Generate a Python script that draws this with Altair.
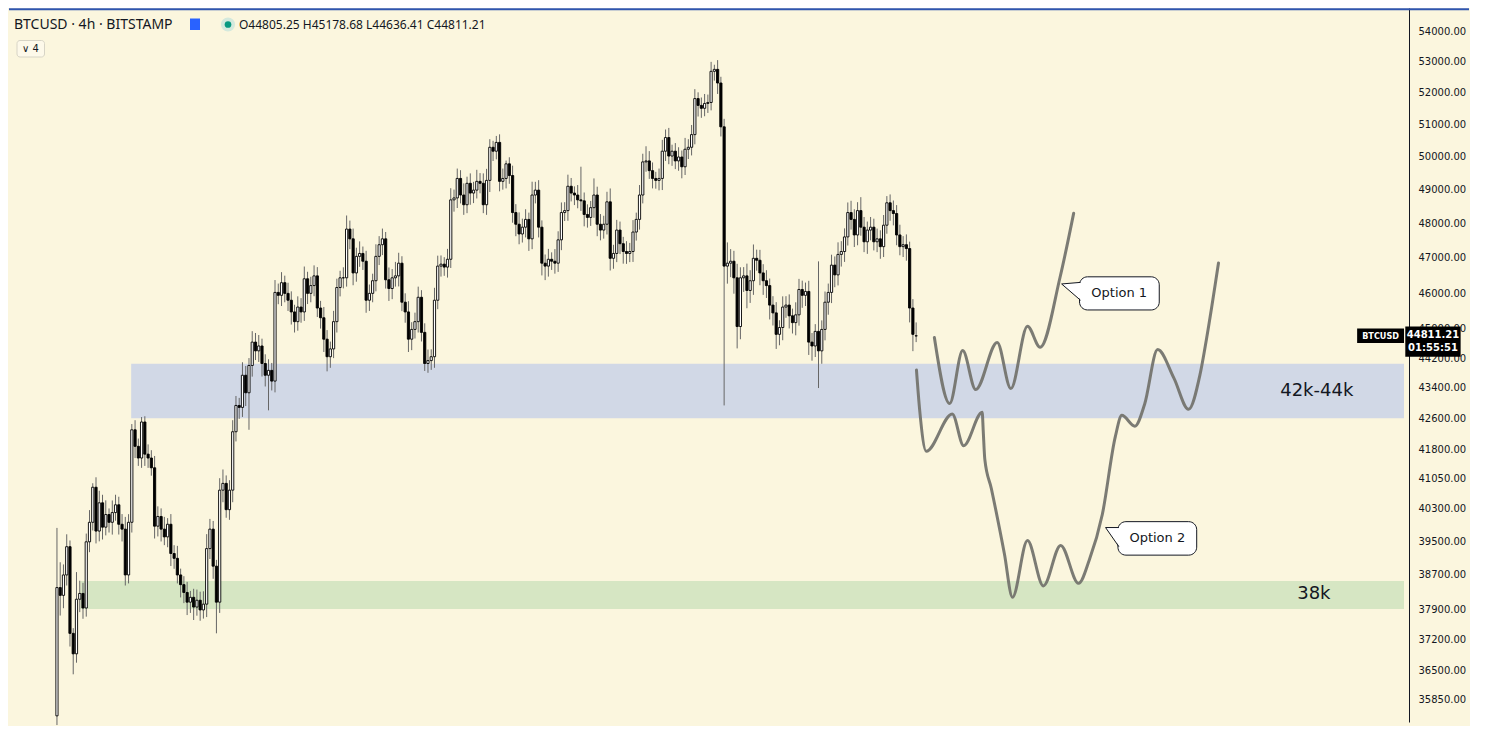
import altair as alt
import pandas as pd

# ---------------- data ----------------
FIRST_OPEN = 35500
LAST_O, LAST_H, LAST_L, LAST_C = 44805.25, 45178.68, 44636.41, 44811.21

closes = [
    38403, 38220, 38701, 39377, 37340, 36875, 38129, 38265, 37925, 39495,
    39970, 40838, 39756, 40450, 39851, 40161, 39970, 40209, 40401, 39922,
    39803, 38701, 39970, 42301, 41875, 41576, 42504, 41675, 41576, 41328,
    39875, 40113, 39803, 39614, 39922, 39213, 39097, 38701, 38472, 38288,
    38061, 38174, 37947, 38106, 37880, 38015, 39331, 39803, 38910, 38061,
    40765, 40935, 40281, 40765, 42251, 42937, 42886, 43739, 43272, 44002,
    44637, 44398, 44531, 44055, 43739, 43870, 43583, 46017, 45935, 46292,
    45990, 45797, 45470, 45200, 45606, 45470, 46403, 45990, 46210, 46486,
    45579, 45308, 44717, 44239, 44451, 45200, 46155, 46431, 46431, 47838,
    47553, 46570, 47045, 47129, 46905, 45797, 45990, 46348, 47045, 47382,
    47553, 46375, 46127, 46431, 46486, 46849, 45742, 45470, 44717, 44985,
    45200, 45880, 44904, 44055, 44134, 44239, 45797, 46765, 46821, 46737,
    46961, 48702, 48760, 49346, 48847, 48557, 49199, 48906, 48994, 49258,
    49199, 48557, 49287, 50297, 50177, 50448, 49258, 49346, 49790, 49434,
    48325, 47980, 47695, 47894, 48123, 47553, 48847, 48994, 47894, 46849,
    46765, 46961, 46905, 46849, 47524, 48325, 48383, 49110, 48906, 48847,
    48702, 48673, 48268, 48181, 48470, 48847, 47980, 47809, 47980, 48644,
    46989, 47129, 47809, 47411, 47185, 47129, 47185, 47752, 48123, 48847,
    49849, 49879, 49582, 49346, 49287, 49346, 50177, 50598, 50028, 50177,
    49879, 49998, 49700, 50237, 50297, 50689, 51821, 51605, 51513, 51667,
    51698, 52694, 52757, 52318, 50932, 46765, 46849, 46905, 46431, 45065,
    46431, 46486, 46072, 46348, 46989, 46933, 46570, 46348, 46210, 45661,
    45443, 44850, 45038, 45606, 45661, 45362, 45173, 45389, 46100, 45935,
    46045, 44637, 44531, 44931, 44398, 44985, 45742, 46017, 46793, 46514,
    47101, 47185, 47609, 48325, 48123, 47666, 48383, 47894, 47467, 47809,
    47894, 47467, 47553, 47326, 47952, 48615, 48383, 48296, 47666, 47326,
    47382, 47270, 45579, 44850, 44811.21,
]

wick_up = [
    1430, 600, 250, 300, 150, 120, 640, 300, 250, 200,
    300, 100, 250, 300, 200, 350, 150, 300, 250, 200,
    250, 300, 200, 150, 250, 200, 130, 150, 250, 200,
    300, 250, 200, 300, 150, 250, 200, 300, 150, 200,
    250, 150, 200, 250, 200, 300, 350, 250, 200, 150,
    300, 350, 200, 250, 300, 250, 200, 350, 250, 200,
    300, 250, 300, 200, 250, 300, 200, 350, 250, 300,
    200, 300, 250, 200, 300, 250, 350, 200, 250, 300,
    250, 200, 300, 250, 200, 300, 250, 200, 300, 400,
    250, 300, 250, 350, 200, 300, 250, 200, 350, 250,
    300, 200, 350, 250, 400, 300, 200, 250, 300, 200,
    250, 300, 200, 250, 300, 200, 350, 300, 250, 200,
    300, 350, 250, 300, 250, 350, 200, 300, 250, 350,
    250, 300, 350, 250, 200, 200, 250, 300, 100, 200,
    300, 250, 350, 250, 300, 200, 400, 250, 300, 200,
    250, 300, 200, 350, 250, 300, 250, 350, 250, 200,
    300, 1000, 250, 300, 200, 500, 250, 300, 250, 300,
    400, 250, 300, 250, 200, 300, 250, 350, 200, 300,
    250, 450, 300, 250, 200, 300, 350, 250, 300, 200,
    250, 300, 200, 350, 250, 300, 300, 200, 250, 300,
    250, 306, 150, 300, 200, 250, 600, 350, 300, 400,
    300, 250, 350, 300, 400, 250, 300, 250, 300, 200,
    250, 300, 200, 300, 250, 300, 200, 350, 300, 250,
    250, 300, 250, 200, 1970, 250, 300, 250, 300, 250,
    350, 300, 250, 300, 350, 300, 250, 400, 300, 250,
    300, 250, 300, 250, 300, 200, 250, 300, 250, 300,
    250, 300, 200, 250, 367.47,
]

wick_dn = [
    200, 470, 300, 250, 300, 460, 200, 300, 250, 200,
    250, 200, 300, 250, 300, 200, 250, 300, 200, 250,
    300, 250, 200, 250, 300, 200, 250, 300, 250, 200,
    300, 250, 300, 200, 250, 300, 250, 200, 300, 250,
    300, 250, 300, 200, 250, 200, 300, 250, 300, 720,
    250, 300, 200, 250, 300, 250, 300, 250, 350, 970,
    300, 250, 300, 350, 300, 930, 250, 300, 250, 300,
    250, 300, 350, 300, 250, 300, 250, 300, 250, 300,
    250, 300, 350, 395, 300, 250, 300, 250, 300, 250,
    300, 350, 250, 300, 250, 350, 300, 250, 300, 250,
    300, 250, 350, 300, 250, 300, 250, 300, 350, 300,
    250, 300, 250, 200, 250, 250, 300, 250, 300, 250,
    300, 250, 350, 300, 250, 300, 250, 350, 300, 250,
    300, 250, 300, 350, 300, 250, 300, 250, 300, 250,
    300, 350, 300, 250, 300, 350, 300, 250, 300, 350,
    400, 300, 250, 300, 250, 300, 250, 300, 250, 300,
    250, 300, 350, 300, 250, 300, 350, 300, 250, 300,
    350, 300, 250, 300, 350, 300, 250, 300, 250, 300,
    250, 300, 250, 300, 250, 300, 350, 300, 250, 300,
    250, 300, 350, 250, 300, 250, 300, 350, 300, 250,
    300, 250, 300, 350, 300, 3827, 500, 400, 450, 600,
    350, 400, 500, 350, 400, 300, 350, 400, 350, 400,
    350, 400, 300, 350, 300, 350, 300, 350, 300, 350,
    300, 350, 400, 300, 1000, 350, 300, 350, 300, 350,
    300, 350, 300, 250, 300, 350, 300, 250, 300, 350,
    300, 250, 300, 350, 300, 250, 300, 350, 300, 250,
    300, 350, 400, 460, 168.84,
]

# hand-drawn scenario paths (bar index, price)
opt1_i = [269.6, 274.3, 278.3, 282.3, 288.9, 293.1, 298.2, 302.1, 308.2, 312.4]
opt1_p = [44762, 42989, 44406, 43358, 44629, 43383, 45073, 44496, 46439, 48305]
opt2_i = [264.1, 265.1, 267.1, 275.1, 278.6, 284.3, 284.6, 285.1, 287.1, 291.1,
          293.6, 298.2, 303.1, 308.4, 313.9, 317.2, 321.2, 325.2, 327.2, 331.2,
          334.2, 338.2, 343.2, 347.7, 351.2, 353.2, 356.9]
opt2_p = [43879, 42802, 41750, 42715, 41892, 42759, 42294, 41543, 40806, 39214,
          38174, 39526, 38442, 39408, 38502, 39057, 40161, 42125, 42677, 42395,
          42971, 44432, 43661, 42835, 43748, 44718, 46857]

# support zones
zone_names = ["42k-44k", "38k"]
zone_start = [22.8, 7.2]
zone_lo = [42600, 37900]
zone_hi = [44050, 38560]
zone_colors = ["#d1d8e6", "#d6e6c3"]
zone_label_i = [387.1, 386.2]
zone_label_p = [43331, 38250]

# callouts
call_text = ["Option 1", "Option 2"]
call_x0 = [314.2, 326.0]
call_x1 = [338.7, 350.2]
call_ptop = [46459, 39986]
call_pbot = [45525, 39174]
call_tip_i = [308.7, 322.2]
call_tip_p = [46256, 39842]
call_att_i = [314.5, 326.3]
call_att_up = [46301, 39842]
call_att_dn = [45797, 39377]
call_lab_i = [326.4, 338.1]
call_lab_p = [45990, 39578]

axis_ticks = [54000, 53000, 52000, 51000, 50000, 49000, 48000, 47000, 46000, 45000,
              44200, 43400, 42600, 41800, 41050, 40300, 39500, 38700, 37900, 37200,
              36500, 35850]

X_DOMAIN = [-13.2, 413.9]
Y_DOMAIN = [35366, 54779]
W, H = 1400, 714
BG = "#fbf6de"
INK = "#131722"

# ---------------- tables ----------------
n = min(len(closes), len(wick_up), len(wick_dn))
opens = [FIRST_OPEN] + closes[:n - 1]
opens[-1] = LAST_O
highs = [max(o, c) + u for o, c, u in zip(opens, closes, wick_up)]
lows = [min(o, c) - d for o, c, d in zip(opens, closes, wick_dn)]
highs[-1], lows[-1] = LAST_H, LAST_L
candles = pd.DataFrame({"i": list(range(n)), "o": opens[:n], "c": closes[:n],
                        "h": highs[:n], "l": lows[:n]})

zones = pd.DataFrame({"name": zone_names, "x0": zone_start, "x1": [X_DOMAIN[1]] * 2,
                      "lo": zone_lo, "hi": zone_hi, "col": zone_colors,
                      "li": zone_label_i, "lp": zone_label_p})

paths = pd.concat([
    pd.DataFrame({"path": "Option 1", "x": opt1_i, "p": opt1_p}),
    pd.DataFrame({"path": "Option 2", "x": opt2_i, "p": opt2_p}),
])

boxes = pd.DataFrame({"t": call_text, "x0": call_x0, "x1": call_x1,
                      "p0": call_ptop, "p1": call_pbot,
                      "li": call_lab_i, "lp": call_lab_p})
wedge_rows, edge_rows = [], []
for k in range(len(call_text)):
    wedge_rows.append({"k": k, "x": call_tip_i[k], "a": call_tip_p[k], "b": call_tip_p[k]})
    wedge_rows.append({"k": k, "x": call_att_i[k] + 0.25, "a": call_att_up[k], "b": call_att_dn[k]})
    edge_rows += [
        {"e": f"{k}u", "x": call_tip_i[k], "p": call_tip_p[k]},
        {"e": f"{k}u", "x": call_att_i[k], "p": call_att_up[k]},
        {"e": f"{k}d", "x": call_tip_i[k], "p": call_tip_p[k]},
        {"e": f"{k}d", "x": call_att_i[k], "p": call_att_dn[k]},
    ]
wedges = pd.DataFrame(wedge_rows)
edges = pd.DataFrame(edge_rows)

# ---------------- chart ----------------
xs = alt.Scale(domain=X_DOMAIN, nice=False, zero=False)
ys = alt.Scale(type="log", domain=Y_DOMAIN, nice=False)

def X(f):
    return alt.X(f, type="quantitative", scale=xs, axis=None)

def Y(f):
    return alt.Y(f, type="quantitative", scale=ys, title=None)

zone_layer = alt.Chart(zones).mark_rect().encode(
    x=X("x0"), x2="x1",
    y=alt.Y("lo:Q", scale=ys, title=None,
            axis=alt.Axis(orient="right", values=axis_ticks, format=".2f", ticks=False,
                          grid=False, labelPadding=9, domainColor=INK, domainWidth=1,
                          labelFont="DejaVu Sans", labelFontSize=10, labelColor=INK,
                          labelOverlap=False, labelFlush=False, title=None)),
    y2="hi",
    color=alt.Color("col:N", scale=None),
)

wicks = alt.Chart(candles).mark_rule(color="#666666", strokeWidth=1).encode(
    x=X("i"), y=Y("l"), y2="h")

bodies = alt.Chart(candles).mark_bar(size=2.2, stroke="#000000", strokeWidth=0.9).encode(
    x=X("i"), y=Y("o"), y2="c",
    fill=alt.condition(alt.datum.c >= alt.datum.o, alt.value("#ffffff"), alt.value("#000000")),
)

lines = alt.Chart(paths).mark_line(interpolate="monotone", color="#74746e", strokeWidth=3,
                                   strokeCap="round", strokeJoin="round", opacity=0.95).encode(
    x=X("x"), y=Y("p"), detail="path:N", order="x:Q")

box_layer = alt.Chart(boxes).mark_rect(fill="#ffffff", stroke=INK, strokeWidth=1,
                                       cornerRadius=8).encode(
    x=X("x0"), x2="x1", y=Y("p0"), y2="p1")
wedge_layer = alt.Chart(wedges).mark_area(fill="#ffffff", opacity=1).encode(
    x=X("x"), y=Y("a"), y2="b", detail="k:N")
edge_layer = alt.Chart(edges).mark_line(color=INK, strokeWidth=1).encode(
    x=X("x"), y=Y("p"), detail="e:N")
box_text = alt.Chart(boxes).mark_text(font="DejaVu Sans", fontSize=13, color=INK).encode(
    x=X("li"), y=Y("lp"), text="t:N")

zone_text = alt.Chart(zones).mark_text(font="DejaVu Sans", fontSize=18, color=INK).encode(
    x=X("li"), y=Y("lp"), text="name:N")

# last-price tags
tag_df = pd.DataFrame({"x0": [399.5], "x1": [413.9], "p0": [45010], "p1": [44610],
                       "xm": [406.7], "pm": [44800], "t": ["BTCUSD"]})
tag_rect = alt.Chart(tag_df).mark_rect(color="#000000").encode(
    x=X("x0"), x2="x1", y=Y("p0"), y2="p1")
tag_text = alt.Chart(tag_df).mark_text(font="DejaVu Sans Condensed", fontSize=9,
                                       fontWeight="bold", color="#ffffff").encode(
    x=X("xm"), y=Y("pm"), text="t:N")
badge_df = pd.DataFrame({"x0": [414.3], "x1": [431.3], "p0": [45065], "p1": [44240],
                         "xm": [422.8], "pa": [44830], "pb": [44478],
                         "ta": [f"{LAST_C:.2f}"], "tb": ["01:55:51"]})
badge_rect = alt.Chart(badge_df).mark_rect(color="#000000").encode(
    x=X("x0"), x2="x1", y=Y("p0"), y2="p1")
badge_a = alt.Chart(badge_df).mark_text(font="DejaVu Sans", fontSize=10, fontWeight="bold",
                                        color="#ffffff").encode(x=X("xm"), y=Y("pa"), text="ta:N")
badge_b = alt.Chart(badge_df).mark_text(font="DejaVu Sans", fontSize=10, fontWeight="bold",
                                        color="#ffffff").encode(x=X("xm"), y=Y("pb"), text="tb:N")

# header (legend strip)
one = pd.DataFrame({"a": [0]})
top_line = alt.Chart(one).mark_rule(color="#2f55b0", strokeWidth=2).encode(
    x=alt.value(0), x2=alt.value(W + 60), y=alt.value(1.2))
title_txt = alt.Chart(one).mark_text(align="left", baseline="middle", font="Noto Sans",
                                     fontSize=14, color=INK).encode(
    x=alt.value(5), y=alt.value(16.5), text=alt.value("BTCUSD · 4h · BITSTAMP"))
flag = alt.Chart(one).mark_rect(color="#2962ff").encode(
    x=alt.value(181), x2=alt.value(191), y=alt.value(10.5), y2=alt.value(22))
halo = alt.Chart(one).mark_point(filled=True, color="#d4e9dd", size=200, opacity=1).encode(
    x=alt.value(219), y=alt.value(16.5))
dot = alt.Chart(one).mark_point(filled=True, color="#089981", size=45, opacity=1).encode(
    x=alt.value(219), y=alt.value(16.5))
ohlc_txt = alt.Chart(one).mark_text(align="left", baseline="middle", font="Noto Sans",
                                    fontSize=12, color=INK).encode(
    x=alt.value(230), y=alt.value(16.5),
    text=alt.value(f"O{LAST_O:.2f} H{LAST_H:.2f} L{LAST_L:.2f} C{LAST_C:.2f}"))
ind_box = alt.Chart(one).mark_rect(fill="#fdf9ea", stroke="#d7d4c6", strokeWidth=1,
                                   cornerRadius=3).encode(
    x=alt.value(8), x2=alt.value(35.5), y=alt.value(32.5), y2=alt.value(49))
ind_txt = alt.Chart(one).mark_text(align="left", baseline="middle", font="DejaVu Sans",
                                   fontSize=10, color=INK).encode(
    x=alt.value(13), y=alt.value(41), text=alt.value("∨  4"))

chart = alt.layer(
    zone_layer, wicks, bodies, lines,
    box_layer, wedge_layer, edge_layer, box_text,
    zone_text, tag_rect, tag_text, badge_rect, badge_a, badge_b,
    top_line, title_txt, flag, halo, dot, ohlc_txt, ind_box, ind_txt,
).properties(width=W, height=H, padding=0, background=BG).configure_view(stroke=None)

chart.save("out.html", embed_options={"renderer": "svg", "actions": False})
